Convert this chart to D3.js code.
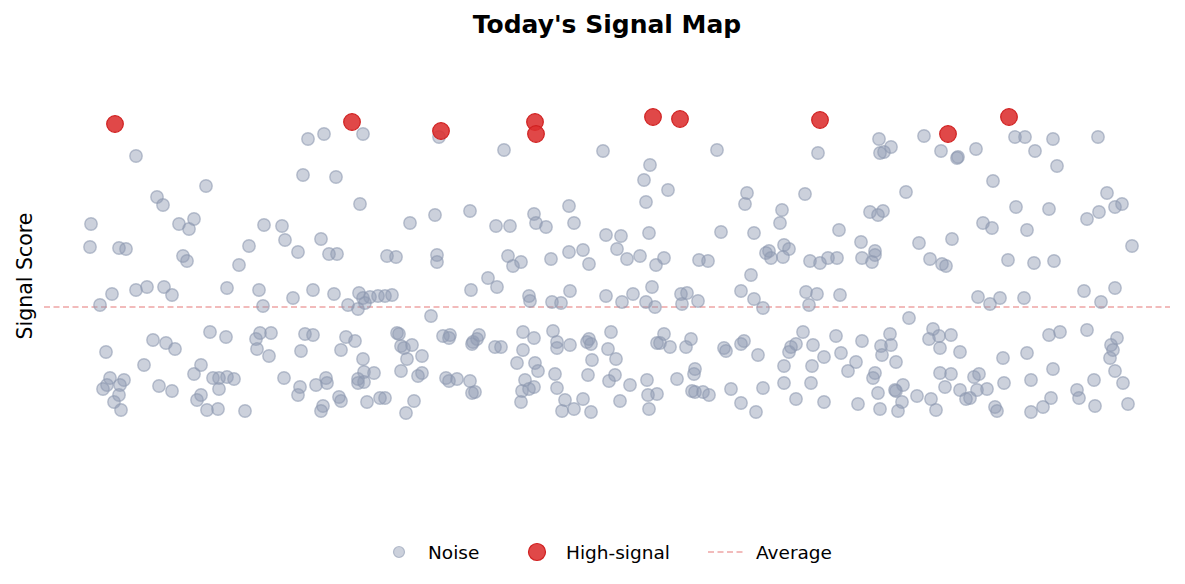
<!DOCTYPE html>
<html>
<head>
<meta charset="utf-8">
<script src="https://cdn.jsdelivr.net/npm/d3@7"></script>
<style>
  body { margin: 0; background: #fff; }
  svg { font-family: "DejaVu Sans", sans-serif; }
</style>
</head>
<body>
<svg id="chart"></svg>
<script>
// readings: time index (t) and signal score for each observation
const noiseT = [
  56,126,77,83,11,99,114,109,10,39,46,169,103,107,159,32,20,56,67,84,92,147,
  130,146,73,86,95,26,64,121,114,30,44,40,27,23,133,139,147,154,79,92,139,39,34,41,121,117,127,138,165,
  228,244,283,223,256,280,330,184,202,205,241,218,249,257,307,316,179,183,213,233,254,279,283,290,298,305,312,285,268,278,351,
  180,176,191,177,189,225,233,266,275,221,261,283,317,319,321,324,332,327,342,204,220,218,236,246,247,278,278,284,284,294,321,338,342,259,261,243,241,287,300,305,334,326,
  359,424,523,355,390,416,430,454,456,466,489,494,357,357,428,433,441,471,489,503,509,408,417,391,449,450,472,481,490,
  363,370,369,399,397,393,392,415,421,443,454,443,473,477,477,490,507,509,511,437,455,458,512,366,369,377,390,395,392,445,442,449,454,441,475,508,477,485,503,482,494,511,
  637,570,564,588,566,667,665,526,541,569,641,674,537,547,560,584,576,619,628,671,526,542,553,572,566,575,601,607,602,618,661,674,683,
  531,528,536,584,577,580,590,606,611,644,646,661,664,678,535,529,550,567,568,577,540,569,597,615,614,612,615,623,629,651,661,676,683,
  738,799,811,800,804,844,861,725,826,702,700,790,798,803,759,781,839,686,689,691,704,709,703,730,740,748,757,782,795,795,792,850,726,737,729,760,
  829,723,716,711,709,733,756,782,810,801,811,802,744,761,776,768,816,795,793,704,732,704,731,853,849,860,860,815,816,823,798,837,851,716,744,778,800,822,818,856,
  878,877,896,935,945,955,973,1018,977,913,1027,936,969,1019,1007,1035,1042,903,912,947,872,1052,862,866,928,954,974,1004,1035,1021,898,910,920,944,
  859,871,880,969,980,1007,1037,1031,1033,1030,923,947,871,865,894,899,880,886,890,897,907,924,951,973,1014,1035,1043,997,999,971,963,951,1015,1048,915,917
];
const noiseScore = [
  264,234,223,215,196,196,201,191,173,172,171,174,164,159,155,126,115,130,133,133,125,132,
  88,83,80,77,71,68,55,55,46,42,40,35,35,31,42,42,43,41,34,29,31,25,18,10,25,20,10,11,9,
  281,286,286,245,243,216,197,195,194,180,181,168,166,166,164,163,130,114,122,130,126,127,122,123,124,124,125,117,115,111,104,
  87,81,87,71,64,86,85,83,79,69,70,61,87,86,74,72,75,61,64,42,33,25,35,42,37,41,37,38,48,47,49,44,47,23,19,14,9,18,22,22,19,7,
  283,270,269,205,209,194,194,206,197,193,214,197,165,158,164,154,158,161,168,170,156,142,133,130,124,119,118,117,129,
  84,85,82,85,81,78,76,73,73,88,82,70,89,78,72,75,78,81,76,57,57,49,60,42,39,41,39,28,27,40,29,31,33,18,46,45,32,20,21,9,11,8,
  270,255,240,230,218,227,216,185,184,187,188,187,171,161,164,162,155,160,159,145,124,118,126,133,118,113,126,127,116,119,129,121,112,
  88,71,61,86,77,77,73,73,81,72,69,76,79,65,45,39,35,40,25,26,19,11,41,51,46,29,28,28,25,31,17,8,32,
  267,281,273,267,268,284,269,226,228,210,197,208,205,209,190,178,177,167,169,162,175,171,163,159,157,162,162,162,169,165,158,161,128,126,115,125,
  102,88,76,73,68,75,84,79,86,74,75,65,63,67,58,49,58,47,42,54,54,37,37,91,81,72,47,30,29,35,27,24,21,21,18,16,11,18,9,10,
  263,262,271,283,283,269,281,283,254,239,227,213,211,208,201,213,216,197,192,190,181,174,156,154,160,157,159,129,132,118,123,116,122,122,
  84,85,68,85,88,90,82,75,70,62,62,67,46,33,43,46,30,21,22,30,31,37,40,51,40,49,37,30,22,22,13,8,14,16,13,9
];
const signalT = [35, 272, 361, 455, 456, 573, 600, 740, 868, 929];
const signalScore = [296, 298, 289, 298, 286, 303, 301, 300, 286, 303];
const averageScore = 113;

const legendLabels = ["Noise", "High-signal", "Average"];

const W = 1185, H = 584;
const mLeft = 44, mRight = 1170, mTop = 50, mBottom = 530;

const svg = d3.select("#chart")
  .attr("width", W)
  .attr("height", H);

const x = d3.scaleLinear().domain([-36, 1090]).range([mLeft, mRight]);
const y = d3.scaleLinear().domain([-110, 370]).range([mBottom, mTop]);

const n = Math.min(noiseT.length, noiseScore.length);
const noise = d3.range(n).map(i => ({ t: noiseT[i], s: noiseScore[i] }));
const signal = signalT.map((t, i) => ({ t, s: signalScore[i] }));

svg.append("text")
  .attr("x", (mLeft + mRight) / 2)
  .attr("y", 33)
  .attr("text-anchor", "middle")
  .style("font-size", "25px")
  .style("font-weight", "bold")
  .text("Today's Signal Map");

svg.append("text")
  .attr("transform", "translate(32,276) rotate(-90)")
  .attr("text-anchor", "middle")
  .style("font-size", "20.5px")
  .text("Signal Score");

svg.append("line")
  .attr("x1", mLeft).attr("x2", mRight)
  .attr("y1", y(averageScore)).attr("y2", y(averageScore))
  .attr("stroke", "#d62728")
  .attr("stroke-opacity", 0.42)
  .attr("stroke-width", 1.5)
  .attr("stroke-dasharray", "6,3.5");

svg.append("g")
  .selectAll("circle")
  .data(noise)
  .join("circle")
  .attr("cx", d => x(d.t))
  .attr("cy", d => y(d.s))
  .attr("r", 6.2)
  .attr("fill", "#8e99b1")
  .attr("fill-opacity", 0.45)
  .attr("stroke", "#8e99b1")
  .attr("stroke-opacity", 0.6)
  .attr("stroke-width", 1.4);

svg.append("g")
  .selectAll("circle")
  .data(signal)
  .join("circle")
  .attr("cx", d => x(d.t))
  .attr("cy", d => y(d.s))
  .attr("r", 8.3)
  .attr("fill", "#dc2f2f")
  .attr("fill-opacity", 0.88)
  .attr("stroke", "#d02020")
  .attr("stroke-width", 1.2);

// legend
const lg = svg.append("g").attr("transform", "translate(0,552)");
lg.append("circle")
  .attr("cx", 399).attr("cy", 0).attr("r", 5.5)
  .attr("fill", "#8e99b1").attr("fill-opacity", 0.45)
  .attr("stroke", "#8e99b1").attr("stroke-opacity", 0.6).attr("stroke-width", 1.2);
lg.append("circle")
  .attr("cx", 537).attr("cy", 0).attr("r", 8.5)
  .attr("fill", "#dc2f2f").attr("fill-opacity", 0.88)
  .attr("stroke", "#d02020").attr("stroke-width", 1.2);
lg.append("line")
  .attr("x1", 708).attr("x2", 746)
  .attr("stroke", "#d62728").attr("stroke-opacity", 0.42)
  .attr("stroke-width", 1.5).attr("stroke-dasharray", "6,3.5");
[[428, legendLabels[0]], [566, legendLabels[1]], [756, legendLabels[2]]].forEach(([lx, label]) => {
  lg.append("text")
    .attr("x", lx).attr("y", 6.5)
    .style("font-size", "18.5px")
    .text(label);
});
</script>
</body>
</html>
